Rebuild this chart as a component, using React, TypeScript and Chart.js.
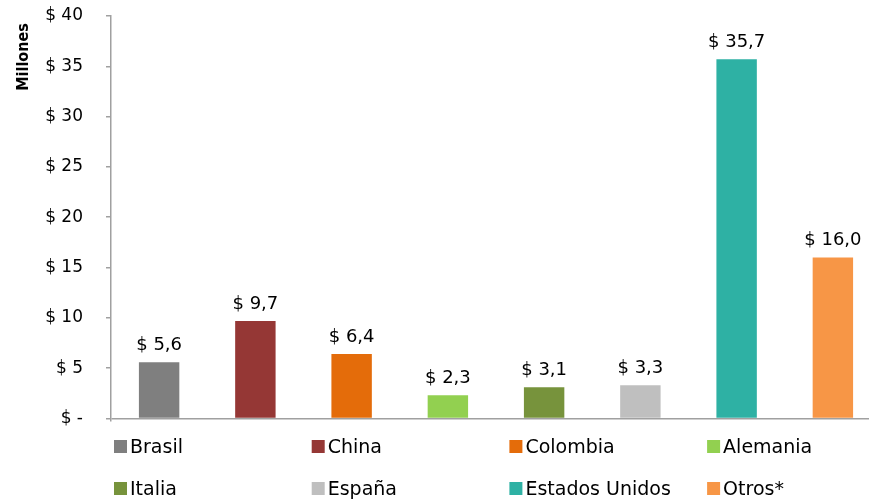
import React, { useEffect, useRef } from "react";
import { Chart, registerables } from "chart.js";

Chart.register(...registerables);

const categories = ["Brasil", "China", "Colombia", "Alemania", "Italia", "España", "Estados Unidos", "Otros*"];
const values = [5.6, 9.7, 6.4, 2.3, 3.1, 3.3, 35.7, 16.0];
const colors = ["#7f7f7f", "#953735", "#e46c0a", "#92d050", "#77933c", "#bfbfbf", "#2eb1a4", "#f79646"];
const yTicks = [0, 5, 10, 15, 20, 25, 30, 35, 40];
const yTitle = "Millones";

const AXIS = "#a0a0a0";
const FONT = '"DejaVu Sans", sans-serif';

const fmtMoney = (v: number) => "$ " + v.toFixed(1).replace(".", ",");
const fmtTick = (v: number) => (v === 0 ? "$ -" : "$ " + v);

const valueLabels = {
  id: "valueLabels",
  afterDatasetsDraw(chart: any) {
    const { ctx } = chart;
    const meta = chart.getDatasetMeta(0);
    ctx.save();
    ctx.font = "18px " + FONT;
    ctx.fillStyle = "#000";
    ctx.textAlign = "center";
    ctx.textBaseline = "alphabetic";
    meta.data.forEach((bar: any, i: number) => {
      ctx.fillText(fmtMoney(values[i]), bar.x, bar.y - 12);
    });
    ctx.restore();
  },
};

const extras = {
  id: "extras",
  afterDraw(chart: any) {
    const { ctx, chartArea } = chart;
    ctx.save();
    ctx.font = 'bold 16px "DejaVu Sans Condensed", "DejaVu Sans", sans-serif';
    ctx.fillStyle = "#000";
    ctx.translate(24, chartArea.top + 41);
    ctx.rotate(-Math.PI / 2);
    ctx.textAlign = "center";
    ctx.textBaseline = "middle";
    ctx.fillText(yTitle, 0, 0);
    ctx.restore();

    ctx.save();
    ctx.font = "19px " + FONT;
    ctx.textAlign = "left";
    ctx.textBaseline = "alphabetic";
    categories.forEach((name, i) => {
      const col = i % 4;
      const row = Math.floor(i / 4);
      const bx = 114 + col * 197.7;
      const by = 440 + row * 42;
      ctx.fillStyle = colors[i];
      ctx.fillRect(bx, by, 13, 13);
      ctx.fillStyle = "#000";
      ctx.fillText(name, bx + 16, by + 12.5);
    });
    ctx.restore();
  },
};

export default function App() {
  const ref = useRef<HTMLCanvasElement | null>(null);

  useEffect(() => {
    if (!ref.current) return;
    const chart = new Chart(ref.current, {
      type: "bar",
      data: {
        labels: categories,
        datasets: [
          {
            data: values,
            backgroundColor: colors,
            borderWidth: 0,
            categoryPercentage: 1,
            barPercentage: 0.42,
          },
        ],
      },
      options: {
        animation: false,
        responsive: true,
        maintainAspectRatio: false,
        layout: { padding: { top: 16, right: 4, bottom: 78, left: 0 } },
        plugins: {
          legend: { display: false },
          tooltip: { enabled: false },
        },
        scales: {
          x: { display: false },
          y: {
            z: 1,
            min: -0.25,
            max: 40,
            afterFit: (s: any) => {
              s.width = 111;
              s.paddingTop = 0;
              s.paddingBottom = 0;
            },
            afterBuildTicks: (s: any) => {
              s.ticks = yTicks.map((v) => ({ value: v }));
            },
            ticks: {
              includeBounds: false,
              stepSize: 5,
              padding: 23,
              color: "#000",
              font: { family: FONT, size: 17 },
              callback: (v: any) => fmtTick(Number(v)),
            },
            grid: {
              drawOnChartArea: true,
              tickLength: 5,
              lineWidth: 1.5,
              color: (c: any) => (c.tick && c.tick.value === 0 ? AXIS : "rgba(0,0,0,0)"),
              tickColor: AXIS,
            },
            border: { display: true, color: AXIS, width: 1.5 },
          },
        },
      },
      plugins: [valueLabels, extras],
    });
    return () => chart.destroy();
  }, []);

  return (
    <div style={{ position: "fixed", left: 0, top: 0, width: 869, height: 499, overflow: "hidden", background: "#fff" }}>
      <div style={{ position: "relative", width: 885, height: 499 }}>
        <canvas ref={ref} />
      </div>
    </div>
  );
}
